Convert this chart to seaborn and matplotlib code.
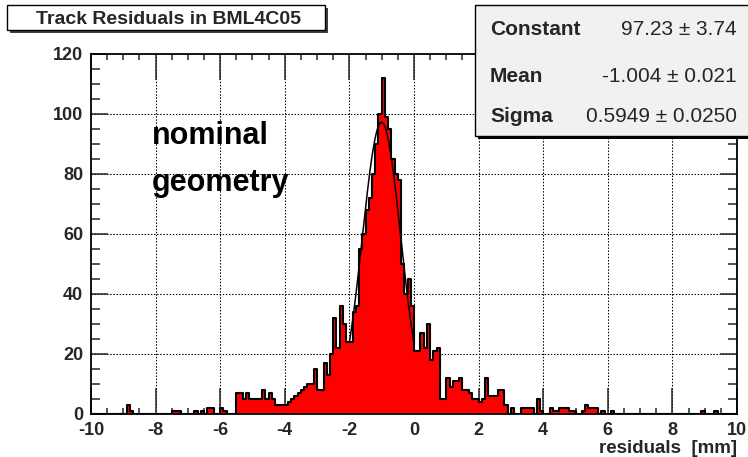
import numpy as np
import pandas as pd
import matplotlib
matplotlib.use("Agg")
import matplotlib.pyplot as plt
from matplotlib.patches import Rectangle
from matplotlib.ticker import MultipleLocator, FuncFormatter
import seaborn as sns

# ---------------- data ----------------
x_min, x_max, n_bins = -10.0, 10.0, 200

counts_left_tail = [  # bins -10.0 .. -6.0
    0, 0, 0, 0, 0, 0, 0, 0, 0, 0,
    0, 3, 1, 0, 0, 0, 0, 0, 0, 0,
    0, 0, 0, 0, 0, 1, 1, 1, 0, 0,
    0, 0, 1, 0, 1, 0, 2, 2, 0, 0,
]
counts_core = [  # bins -6.0 .. 2.0
    2, 1, 0, 0, 0, 7, 7, 5, 7, 5,
    5, 5, 5, 8, 5, 7, 5, 3, 3, 3,
    3, 4, 5, 6, 7, 8, 9, 10, 10, 15,
    8, 8, 17, 13, 20, 32, 22, 36, 30, 24,
    24, 34, 36, 55, 60, 68, 72, 80, 90, 100,
    112, 99, 95, 85, 80, 78, 50, 40, 45, 36,
    21, 21, 27, 22, 30, 18, 21, 22, 5, 5,
    12, 9, 11, 11, 12, 8, 8, 7, 5, 5,
]
counts_right_tail = [  # bins 2.0 .. 10.0
    4, 5, 12, 6, 6, 6, 8, 8, 3, 0,
    2, 0, 0, 2, 2, 2, 2, 0, 5, 1,
    0, 0, 2, 1, 1, 2, 2, 2, 1, 1,
    0, 0, 1, 3, 2, 2, 2, 0, 1, 0,
    0, 1, 0, 0, 0, 0, 0, 0, 0, 0,
    0, 0, 0, 0, 0, 0, 0, 0, 0, 0,
    0, 0, 0, 0, 0, 0, 0, 0, 0, 1,
    0, 0, 0, 1, 0, 0, 0, 0, 0, 0,
]

fit_constant = 97.23
fit_mean = -1.004
fit_sigma = 0.5949
fit_range = (-2.0, 0.0)

title_text = "Track Residuals in BML4C05"
stats_labels = ["Constant", "Mean", "Sigma"]
stats_values = ["97.23 \u00b1 3.74", "-1.004 \u00b1 0.021", "0.5949 \u00b1 0.0250"]
note_lines = ["nominal", "geometry"]
x_ticks = [-10, -8, -6, -4, -2, 0, 2, 4, 6, 8, 10]
y_ticks = [0, 20, 40, 60, 80, 100, 120]
x_label = "residuals  [mm]"

# ---------------- figure ----------------
W, H = 748, 457
sns.set_style("white")
plt.rcParams["font.family"] = ["Liberation Sans", "DejaVu Sans"]
plt.rcParams["axes.unicode_minus"] = False

fig = plt.figure(figsize=(W / 100, H / 100), dpi=100)
fig.patch.set_facecolor("white")

def fx(px):
    return px / W

def fy(py):
    return 1 - py / H

ax_l, ax_r, ax_t, ax_b = 91, 737, 54, 414
ax = fig.add_axes([fx(ax_l), fy(ax_b), (ax_r - ax_l) / W, (ax_b - ax_t) / H])

counts = np.array(counts_left_tail + counts_core + counts_right_tail, dtype=float)
edges = np.linspace(x_min, x_max, n_bins + 1)
centers = 0.5 * (edges[:-1] + edges[1:])
df = pd.DataFrame({"residual": centers, "count": counts})
bin_list = [float(e) for e in edges]

# manual dotted grid (below the histogram)
for xv in x_ticks[1:-1]:
    ax.axvline(xv, color="black", lw=0.75, ls=(0, (1.4, 1.6)), zorder=0.5)
for yv in y_ticks[1:-1]:
    ax.axhline(yv, color="black", lw=0.75, ls=(0, (1.4, 1.6)), zorder=0.5)

sns.histplot(data=df, x="residual", weights="count", bins=bin_list,
             element="step", fill=True, color="#ff0000", alpha=1,
             linewidth=0, ax=ax, zorder=1)
sns.histplot(data=df, x="residual", weights="count", bins=bin_list,
             element="step", fill=False, color="black", linewidth=1.5,
             ax=ax, zorder=2)

xs = np.linspace(fit_range[0], fit_range[1], 300)
ys = fit_constant * np.exp(-0.5 * ((xs - fit_mean) / fit_sigma) ** 2)
sns.lineplot(x=xs, y=ys, color="black", lw=1.1, ax=ax, zorder=3)

ax.set_xlim(x_min, x_max)
ax.set_ylim(0, 120)
ax.set_xticks(x_ticks)
ax.set_yticks(y_ticks)
ax.xaxis.set_major_formatter(FuncFormatter(lambda v, p: "%d" % round(v)))
ax.yaxis.set_major_formatter(FuncFormatter(lambda v, p: "%d" % round(v)))
ax.xaxis.set_minor_locator(MultipleLocator(0.5))
ax.yaxis.set_minor_locator(MultipleLocator(5))
ax.tick_params(axis="x", which="major", direction="in", length=19, width=1.1,
               top=True, bottom=True, pad=5.5, labelsize=13)
ax.tick_params(axis="x", which="minor", direction="in", length=4.5, width=1.1,
               top=True, bottom=True)
ax.tick_params(axis="y", which="major", direction="in", length=12, width=1.1,
               left=True, right=True, pad=5.5, labelsize=13)
ax.tick_params(axis="y", which="minor", direction="in", length=6.5, width=1.1,
               left=True, right=True)
for lab in ax.get_xticklabels() + ax.get_yticklabels():
    lab.set_fontweight("bold")
for s in ax.spines.values():
    s.set_linewidth(1.3)
    s.set_color("black")
ax.set_ylabel("")
ax.set_xlabel(x_label, loc="right", fontsize=13.5, fontweight="bold", labelpad=1)

# nominal geometry annotation
for txt, base in zip(note_lines, [144, 191]):
    fig.text(fx(152), fy(base), txt, fontsize=22, fontweight="bold",
             ha="left", va="baseline", color="black")

# title box with shadow
tb_x0, tb_y0, tb_x1, tb_y1 = 7, 5, 325, 30
fig.add_artist(Rectangle((fx(tb_x0 + 3), fy(tb_y1 + 3)), (tb_x1 - tb_x0) / W,
                         (tb_y1 - tb_y0) / H, transform=fig.transFigure,
                         facecolor="#404040", edgecolor="none", zorder=10))
fig.add_artist(Rectangle((fx(tb_x0), fy(tb_y1)), (tb_x1 - tb_x0) / W,
                         (tb_y1 - tb_y0) / H, transform=fig.transFigure,
                         facecolor="white", edgecolor="black", lw=1.0, zorder=11))
fig.text(fx(168), fy(24), title_text, fontsize=14, fontweight="bold",
         ha="center", va="baseline", zorder=12)

# stats box with shadow
sb_x0, sb_y0, sb_x1, sb_y1 = 475, 5, 770, 136
fig.add_artist(Rectangle((fx(sb_x0 + 3), fy(sb_y1 + 3)), (sb_x1 - sb_x0) / W,
                         (sb_y1 - sb_y0) / H, transform=fig.transFigure,
                         facecolor="black", edgecolor="none", zorder=10))
fig.add_artist(Rectangle((fx(sb_x0), fy(sb_y1)), (sb_x1 - sb_x0) / W,
                         (sb_y1 - sb_y0) / H, transform=fig.transFigure,
                         facecolor="#f1f1f1", edgecolor="black", lw=1.0, zorder=11))
for lab, val, base in zip(stats_labels, stats_values, [35, 82, 122]):
    fig.text(fx(490), fy(base), lab, fontsize=15, fontweight="bold",
             ha="left", va="baseline", zorder=12)
    fig.text(fx(737), fy(base), val, fontsize=15, ha="right",
             va="baseline", zorder=12)

fig.savefig("out.png", dpi=100)
